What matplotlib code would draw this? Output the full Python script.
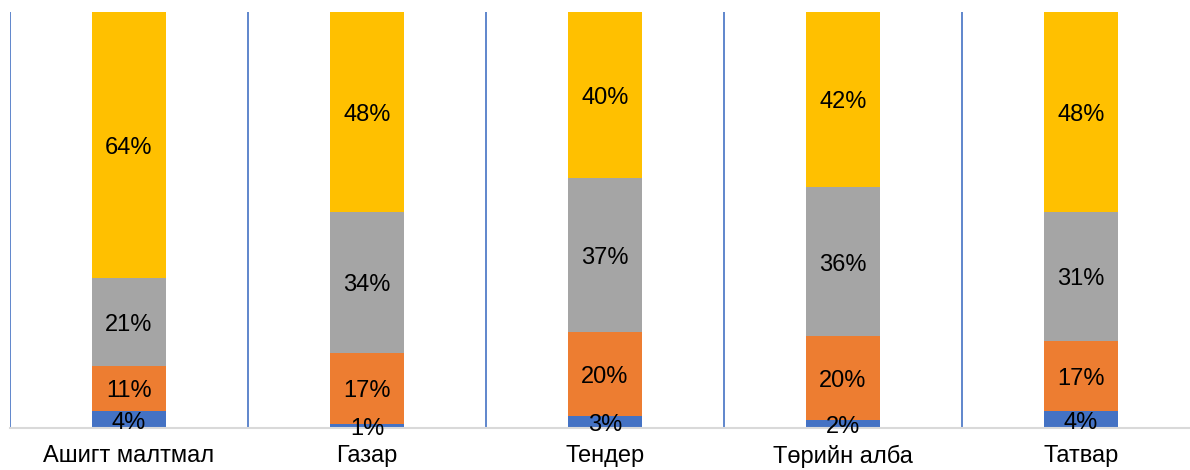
import numpy as np
import matplotlib.pyplot as plt

plt.rcParams['font.family'] = ['Liberation Sans', 'DejaVu Sans']

categories = ["Ашигт малтмал", "Газар", "Тендер", "Төрийн алба", "Татвар"]
blue_vals = [4, 1, 3, 2, 4]
orange_vals = [11, 17, 20, 20, 17]
gray_vals = [21, 34, 37, 36, 31]
yellow_vals = [64, 48, 40, 42, 48]

series = [blue_vals, orange_vals, gray_vals, yellow_vals]
colors = ["#4472C4", "#ED7D31", "#A5A5A5", "#FFC000"]

fig = plt.figure(figsize=(11.9, 4.7), dpi=100)
ax = fig.add_axes([10 / 1190, 42 / 470, 1190 / 1190, 416 / 470])

x = np.arange(len(categories))
bottom = np.zeros(len(categories))
for vals, col in zip(series, colors):
    vals = np.array(vals, dtype=float)
    ax.bar(x, vals, 0.315, bottom=bottom, color=col, zorder=2)
    for xi, b, v in zip(x, bottom, vals):
        # labels sit a touch below the segment middle, like in excel
        ax.text(xi, b + v / 2 - 0.7, f"{int(v)}%", ha='center', va='center',
                fontsize=17, color='black', zorder=3)
    bottom += vals

for b in np.arange(-0.5, len(categories) + 0.5, 1):
    ax.axvline(b, color='#4472C4', lw=1.2, zorder=1)

ax.set_xlim(-0.5, len(categories) - 0.5)
ax.set_ylim(0, 100)
ax.set_xticks(x)
ax.set_xticklabels(categories, fontsize=17)
ax.tick_params(axis='x', length=0, pad=12)
ax.set_yticks([])
for s in ['top', 'right', 'left']:
    ax.spines[s].set_visible(False)
ax.spines['bottom'].set_color('#D9D9D9')
ax.spines['bottom'].set_linewidth(1.5)

plt.savefig("out.png", dpi=100)
